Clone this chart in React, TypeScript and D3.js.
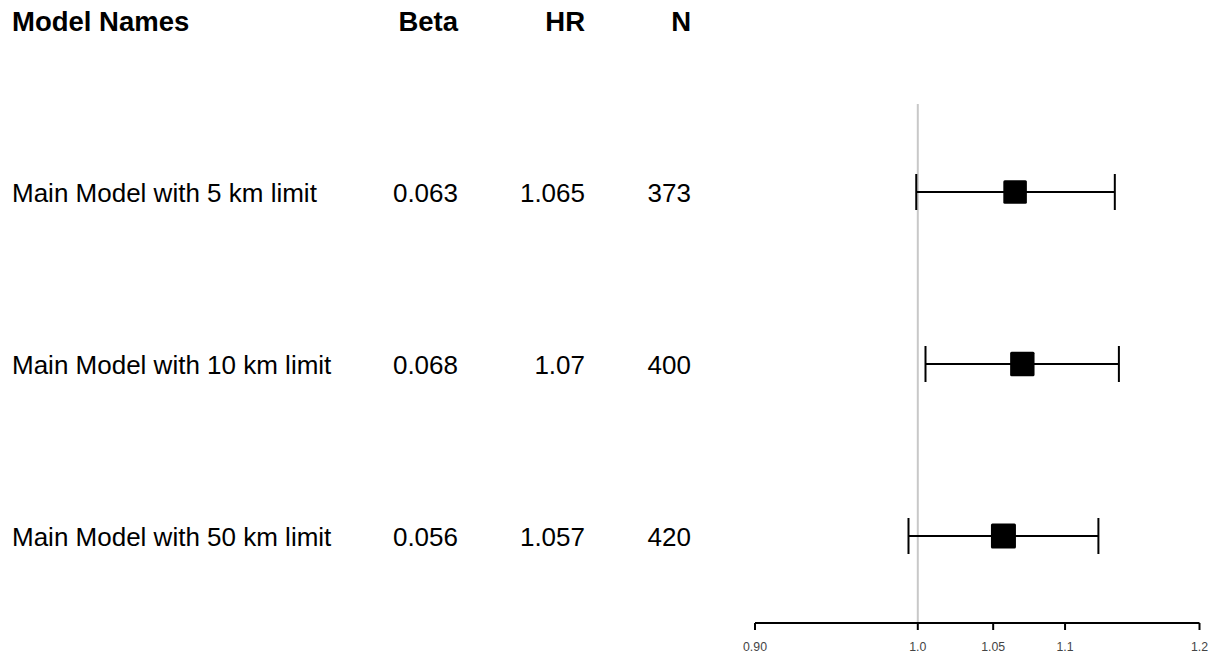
import { useMemo } from "react";
import * as d3 from "d3";

const modelNames = [
  "Main Model with 5 km limit",
  "Main Model with 10 km limit",
  "Main Model with 50 km limit",
];
const betas = ["0.063", "0.068", "0.056"];
const hrs = [1.065, 1.07, 1.057];
const hrLabels = ["1.065", "1.07", "1.057"];
const ns = [373, 400, 420];
const ciLower = [0.999, 1.005, 0.994];
const ciUpper = [1.136, 1.139, 1.124];
const axisTicks = [0.9, 1.0, 1.05, 1.1, 1.2];
const axisTickLabels = ["0.90", "1.0", "1.05", "1.1", "1.2"];
const headers = ["Model Names", "Beta", "HR", "N"];

const width = 1219;
const height = 658;
const font = "'Liberation Sans', Arial, Helvetica, sans-serif";

export default function App() {
  const x = useMemo(() => d3.scaleLog().domain([0.9, 1.2]).range([755, 1199.5]), []);
  const y = useMemo(
    () => d3.scalePoint<number>().domain([0, 1, 2]).range([192, 536]),
    []
  );
  const boxSize = useMemo(
    () => d3.scaleSqrt().domain([0, d3.max(ns) as number]).range([0, 25]),
    []
  );

  const axisY = 623;
  const colName = 12;
  const colBeta = 458;
  const colHR = 585;
  const colN = 691;

  return (
    <div style={{ position: "absolute", left: 0, top: 0 }}>
      <svg width={width} height={height} style={{ display: "block", background: "#fff" }}>
        {/* header */}
        <g fontFamily={font} fontWeight="bold" fontSize={27.5} fill="#000">
          <text x={colName} y={31}>{headers[0]}</text>
          <text x={colBeta} y={31} textAnchor="end">{headers[1]}</text>
          <text x={colHR} y={31} textAnchor="end">{headers[2]}</text>
          <text x={colN} y={31} textAnchor="end">{headers[3]}</text>
        </g>

        {/* table rows */}
        <g fontFamily={font} fontSize={26} fill="#000">
          {modelNames.map((name, i) => {
            const cy = (y(i) as number) + 9.5;
            return (
              <g key={name}>
                <text x={colName} y={cy}>{name}</text>
                <text x={colBeta} y={cy} textAnchor="end">{betas[i]}</text>
                <text x={colHR} y={cy} textAnchor="end">{hrLabels[i]}</text>
                <text x={colN} y={cy} textAnchor="end">{ns[i]}</text>
              </g>
            );
          })}
        </g>

        {/* reference line at HR = 1 */}
        <line x1={x(1)} x2={x(1)} y1={104} y2={axisY} stroke="#c8c8c8" strokeWidth={2} />

        {/* CI + boxes */}
        {hrs.map((hr, i) => {
          const cy = y(i) as number;
          const s = boxSize(ns[i]);
          return (
            <g key={i} stroke="#000" strokeWidth={2}>
              <line x1={x(ciLower[i])} x2={x(ciUpper[i])} y1={cy} y2={cy} />
              <line x1={x(ciLower[i])} x2={x(ciLower[i])} y1={cy - 18} y2={cy + 18} />
              <line x1={x(ciUpper[i])} x2={x(ciUpper[i])} y1={cy - 18} y2={cy + 18} />
              <rect x={x(hr) - s / 2} y={cy - s / 2} width={s} height={s} rx={1.5} fill="#000" stroke="none" />
            </g>
          );
        })}

        {/* x axis */}
        <g>
          <line x1={x(0.9)} x2={x(1.2)} y1={axisY} y2={axisY} stroke="#000" strokeWidth={2} />
          {axisTicks.map((t, i) => (
            <g key={t}>
              <line x1={x(t)} x2={x(t)} y1={axisY} y2={axisY + 7} stroke="#000" strokeWidth={2} />
              <text
                x={x(t)}
                y={651}
                textAnchor="middle"
                fontFamily={font}
                fontSize={12.3}
                fill="#444"
              >
                {axisTickLabels[i]}
              </text>
            </g>
          ))}
        </g>
      </svg>
    </div>
  );
}
